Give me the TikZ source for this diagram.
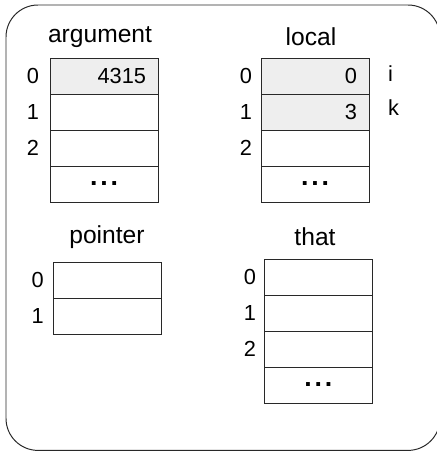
\documentclass[tikz,border=0pt]{standalone}
\usepackage{fontspec}
\setmainfont{Liberation Sans}
\usepackage{xcolor}
\usetikzlibrary{positioning}
\definecolor{frame}{RGB}{40,40,40}
\definecolor{used}{RGB}{238,238,238}
\tikzset{
  slot/.style={draw=frame,line width=0.7pt,minimum width=2.7cm,minimum height=0.9cm,
    text width=2.1cm,inner xsep=0.25cm,inner ysep=0pt,align=right,font=\fontsize{15.5}{16}\selectfont},
  uslot/.style={slot,fill=used},
  more/.style={slot,align=center,font=\fontsize{19}{19}\selectfont\bfseries},
  title/.style={font=\fontsize{17.5}{19}\selectfont},
  idx/.style={font=\fontsize{15.5}{16}\selectfont},
}
\newcommand{\gap}{.\kern2pt.\kern2pt.}
\begin{document}
\begin{tikzpicture}
  \useasboundingbox (0,0) rectangle (10.925,-11.275);
  \draw[frame,line width=0.7pt,rounded corners=0.8cm] (0.15,-0.125) rectangle (11.0,-11.26);
  % argument
  \node[title] (argT) at (2.5,-0.925) {argument};
  \node[uslot] (arg0) at (2.6,-1.9) {4315};
  \node[slot] (arg1) at (2.6,-2.8) {};
  \node[slot] (arg2) at (2.6,-3.7) {};
  \node[more] (arg3) at (2.6,-4.6) {\gap};
  \foreach \r in {0,1,2}{
     \node[idx] (argI\r) at (0.825,-1.9-0.9*\r) {\r};}
  % local
  \node[title] (locT) at (7.775,-0.925) {local};
  \node[uslot] (loc0) at (7.875,-1.9) {0};
  \node[uslot] (loc1) at (7.875,-2.8) {3};
  \node[slot] (loc2) at (7.875,-3.7) {};
  \node[more] (loc3) at (7.875,-4.6) {\gap};
  \foreach \r in {0,1,2}{
     \node[idx] (locI\r) at (6.15,-1.9-0.9*\r) {\r};}
  \node[idx,anchor=west] (varI) at (9.58,-1.85) {i};
  \node[idx,anchor=west] (varK) at (9.58,-2.7) {k};
  % pointer
  \node[title] (ptrT) at (2.675,-5.925) {pointer};
  \node[slot] (ptr0) at (2.675,-7.0) {};
  \node[slot] (ptr1) at (2.675,-7.9) {};
  \foreach \r in {0,1}{
     \node[idx] (ptrI\r) at (0.94,-7.0-0.9*\r) {\r};}
  % that
  \node[title] (thatT) at (7.875,-5.925) {that};
  \node[slot] (that0) at (7.96,-6.925) {};
  \node[slot] (that1) at (7.96,-7.825) {};
  \node[slot] (that2) at (7.96,-8.725) {};
  \node[more] (that3) at (7.96,-9.625) {\gap};
  \foreach \r in {0,1,2}{
     \node[idx] (thatI\r) at (6.25,-6.925-0.9*\r) {\r};}
\end{tikzpicture}
\end{document}
